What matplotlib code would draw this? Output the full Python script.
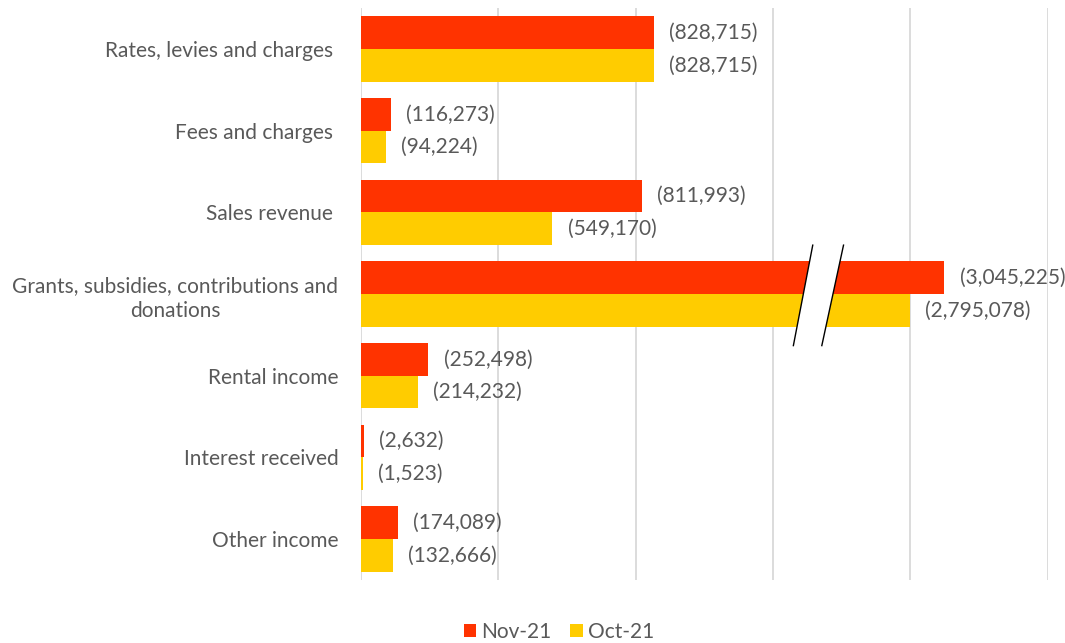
import matplotlib
matplotlib.use("Agg")
import matplotlib.pyplot as plt
from matplotlib.patches import Polygon
import numpy as np

plt.rcParams['font.family'] = ['Lato', 'DejaVu Sans']

categories = ["Rates, levies and charges ", "Fees and charges ", "Sales revenue ",
              "Grants, subsidies, contributions and\ndonations", "Rental income",
              "Interest received", "Other income"]
series_names = ["Nov-21", "Oct-21"]
# Values shown in the data labels
nov_values = [828715, 116273, 811993, 3045225, 252498, 2632, 174089]
oct_values = [828715, 94224, 549170, 2795078, 214232, 1523, 132666]
# Bar lengths as drawn in the picture (axis units, one gridline = 1; bars are not to label scale,
# the Grants bar is shown with an axis break)
nov_bar = [2.135, 0.221, 2.047, 4.248, 0.492, 0.022, 0.271]
oct_bar = [2.135, 0.184, 1.394, 3.998, 0.417, 0.015, 0.233]

RED = "#FF3300"
YEL = "#FFCC00"
TXT = "#595959"
GRID = "#D9D9D9"
FS = 15

fig = plt.figure(figsize=(10.65, 6.43), dpi=100)
ax = fig.add_axes([360.7/1065, 1-580/643, (1047.7-360.7)/1065, (580-8.3)/643])

y = np.arange(len(categories))
h = 0.4
b1 = ax.barh(y - h/2, nov_bar, height=h, color=RED, label=series_names[0], zorder=2)
b2 = ax.barh(y + h/2, oct_bar, height=h, color=YEL, label=series_names[1], zorder=2)

def fmt(v):
    return "({:,})".format(v)

for bars, vals in ((b1, nov_values), (b2, oct_values)):
    for rect, v in zip(bars, vals):
        ax.annotate(fmt(v), xy=(rect.get_width(), rect.get_y() + rect.get_height()/2),
                    xytext=(11.0, 0), textcoords="offset points",
                    ha="left", va="center", fontsize=FS, color=TXT)

ax.set_xlim(0, 5)
ax.set_ylim(len(categories) - 0.5, -0.5)
ax.set_xticks(np.arange(0, 6))
ax.set_xticklabels([])
ax.set_yticks(y)
ax.set_yticklabels(categories, fontsize=FS, color=TXT, multialignment="center",
                   linespacing=1.3)
ax.tick_params(axis="both", length=0, pad=16)
ax.grid(axis="x", color=GRID, linewidth=1.3)
ax.set_axisbelow(True)
for s in ax.spines.values():
    s.set_visible(False)

# axis break on the Grants bars
gi = 3
yt, yb = gi - 0.6, gi + 0.63
x1t, x1b = 3.290, 3.149
x2t, x2b = 3.514, 3.356
ax.add_patch(Polygon([(x1t, yt), (x2t, yt), (x2b, yb), (x1b, yb)], closed=True,
                     facecolor="white", edgecolor="none", zorder=3))
ax.plot([x1t, x1b], [yt, yb], color="black", lw=1.0, zorder=4)
ax.plot([x2t, x2b], [yt, yb], color="black", lw=1.0, zorder=4)

fig.legend(handles=[b1, b2], labels=series_names, loc="center",
           bbox_to_anchor=(559/1065, 1-632/643), ncol=2, frameon=False,
           fontsize=FS, labelcolor=TXT, handlelength=0.6, handleheight=0.6,
           handletextpad=0.25, columnspacing=0.9)

fig.savefig("out.png", dpi=100)
